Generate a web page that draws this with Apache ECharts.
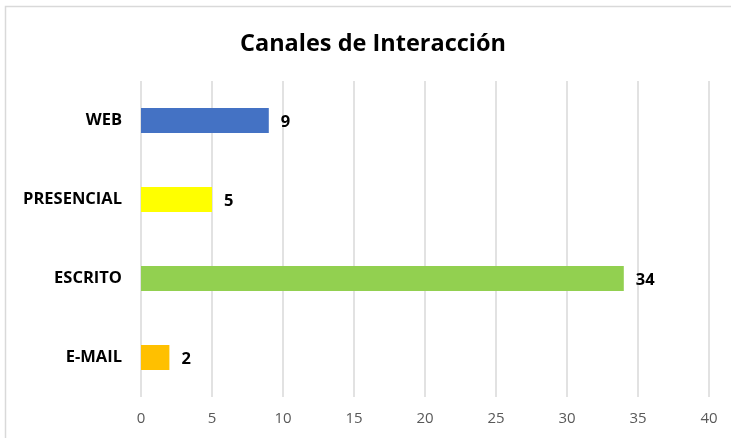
<!DOCTYPE html>
<html>
<head>
<meta charset="utf-8">
<script src="https://cdn.jsdelivr.net/npm/echarts@6/dist/echarts.min.js"></script>
<style>
  html, body { margin: 0; padding: 0; background: #fff; }
  #chart { width: 731px; height: 438px; }
</style>
</head>
<body>
<div id="chart"></div>
<script>
// datos (de abajo hacia arriba)
var categorias = ["E-MAIL", "ESCRITO", "PRESENCIAL", "WEB"];
var valores = [2, 34, 5, 9];
var colores = ["#FFC000", "#92D050", "#FFFF00", "#4472C4"];
var ticksX = [0, 5, 10, 15, 20, 25, 30, 35, 40];

var fuente = "'Open Sans', 'Noto Sans', sans-serif";

var chart = echarts.init(document.getElementById("chart"));
var option = {
  animation: false,
  title: {
    text: "Canales de Interacción",
    left: 235,
    top: 27,
    textStyle: { fontFamily: fuente, fontSize: 23.5, fontWeight: "bold", color: "#000" }
  },
  graphic: [
    {
      type: "polyline",
      shape: { points: [[5.5, 438], [5.5, 6.5], [731, 6.5]] },
      style: { stroke: "#d9d9d9", lineWidth: 1.5, fill: null }
    }
  ],
  grid: { left: 141, right: 22, top: 81, bottom: 41 },
  xAxis: {
    type: "value",
    min: ticksX[0],
    max: ticksX[ticksX.length - 1],
    interval: 5,
    axisLine: { show: false },
    axisTick: { show: false },
    splitLine: { show: true, lineStyle: { color: "#d9d9d9", width: 1.5 } },
    axisLabel: { margin: 14, fontFamily: fuente, fontSize: 15, color: "#595959" }
  },
  yAxis: {
    type: "category",
    data: categorias,
    axisLine: { show: false },
    axisTick: { show: false },
    axisLabel: { margin: 19, fontFamily: fuente, fontSize: 16.5, fontWeight: "bold", color: "#000" }
  },
  series: [
    {
      type: "bar",
      barWidth: 25,
      data: valores.map(function (v, i) {
        return { value: v, itemStyle: { color: colores[i] } };
      }),
      label: {
        show: true,
        position: "right",
        distance: 12,
        fontFamily: fuente,
        fontSize: 16.5,
        fontWeight: "bold",
        color: "#000",
        offset: [0, 2]
      }
    }
  ]
};
chart.setOption(option);
</script>
</body>
</html>
